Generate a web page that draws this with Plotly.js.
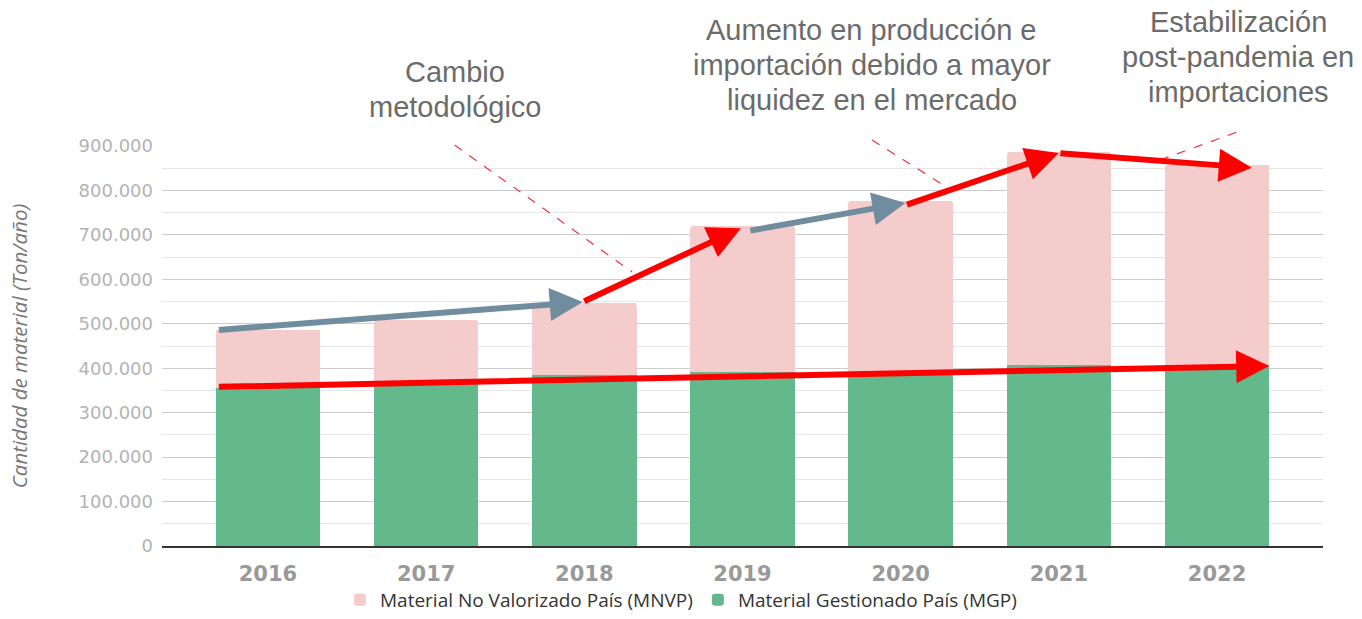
<!DOCTYPE html>
<html>
<head>
<meta charset="utf-8">
<script src="https://cdn.plot.ly/plotly-3.0.1.min.js"></script>
<style>
  html, body { margin: 0; padding: 0; background: #fff; }
  #chart { width: 1362px; height: 619px; }
</style>
</head>
<body>
<div id="chart"></div>
<script>
// values (Ton/año)
const years = ['2016', '2017', '2018', '2019', '2020', '2021', '2022'];
const mgp = [356000, 365000, 385000, 392000, 388000, 407000, 408000];
const mnvp = [131000, 143000, 162000, 328000, 389000, 479000, 450000];

// trend arrows: [tailX, tailY, headX, headY] in category index / value units
const grayArrows = [
  [-0.32, 486000, 1.99, 549000],
  [3.04, 709000, 4.03, 772000],
];
const redArrows = [
  [1.99, 549000, 2.99, 715000],
  [4.03, 767000, 5.0, 884000],
  [5.0, 884000, 6.22, 851000],
  [-0.32, 358000, 6.33, 405000],
];

const noteLines = [
  ['Cambio', 'metodológico'],
  ['Aumento en producción e', 'importación debido a mayor', 'liquidez en el mercado'],
  ['Estabilización', 'post-pandemia en', 'importaciones'],
];
// where each note sits (paper units): centre x, first line y
const notePos = [[0.2524, 1.185], [0.6115, 1.29], [0.9268, 1.31]];
const leaders = [
  [0.252, 1.0025, 0.405, 0.685],
  [0.6115, 1.015, 0.677, 0.895],
  [0.8596, 0.965, 0.9285, 1.0375],
];

function arrow(a, color) {
  return {
    x: a[2], y: a[3], ax: a[0], ay: a[1],
    xref: 'x', yref: 'y', axref: 'x', ayref: 'y',
    text: '', showarrow: true,
    arrowhead: 2, arrowsize: 1.1, arrowwidth: 6,
    arrowcolor: color, standoff: 0, startstandoff: 0,
  };
}

const annotations = []
  .concat(grayArrows.map(a => arrow(a, '#6f8d9f')))
  .concat(redArrows.map(a => arrow(a, '#ff0000')));
noteLines.forEach((lines, i) => {
  lines.forEach((t, j) => {
    annotations.push({
      text: t, x: notePos[i][0], y: notePos[i][1] - j * 0.0875,
      xref: 'paper', yref: 'paper', showarrow: false,
      xanchor: 'center', yanchor: 'middle',
      font: { family: 'Liberation Sans, Arial, sans-serif', size: 29, color: '#6b6b6b' },
    });
  });
});

const shapes = leaders.map(l => ({
  type: 'line', xref: 'paper', yref: 'paper',
  x0: l[0], y0: l[1], x1: l[2], y1: l[3],
  line: { color: '#ee3344', width: 1.2, dash: 'dash' },
}));

Plotly.newPlot('chart', [
  {
    type: 'bar', x: years, y: mgp, name: 'Material Gestionado País (MGP)',
    marker: { color: '#63b98c' }, hoverinfo: 'y',
  },
  {
    type: 'bar', x: years, y: mnvp, name: 'Material No Valorizado País (MNVP)',
    marker: { color: '#f4cccc' }, hoverinfo: 'y',
  },
], {
  width: 1362, height: 619,
  margin: { l: 162, r: 39, t: 146, b: 73 },
  barmode: 'stack', bargap: 0.34, barcornerradius: 3,
  separators: ',.',
  paper_bgcolor: '#fff', plot_bgcolor: '#fff',
  showlegend: true,
  legend: {
    orientation: 'h', traceorder: 'reversed',
    xref: 'container', yref: 'container', x: 0.5, y: 0,
    xanchor: 'center', yanchor: 'bottom',
    font: { family: 'Open Sans, sans-serif', size: 19, color: '#333' },
  },
  xaxis: {
    type: 'category', range: [-0.67, 6.67],
    showline: true, linecolor: '#333', linewidth: 2,
    showgrid: false, ticks: '', ticklabelstandoff: 8,
    tickfont: { family: 'DejaVu Sans, Verdana, sans-serif', size: 21, color: '#999', weight: 'bold' },
  },
  yaxis: {
    range: [0, 900000], dtick: 100000, tickformat: ',d',
    showgrid: true, gridcolor: '#cccccc', gridwidth: 1,
    minor: { dtick: 50000, showgrid: true, gridcolor: '#e6e6e6', gridwidth: 1 },
    zeroline: false, ticks: '', ticklabelstandoff: 8,
    tickfont: { family: 'DejaVu Sans, Verdana, sans-serif', size: 18, color: '#b3b3b3' },
    title: {
      text: 'Cantidad de material (Ton/año)', standoff: 45,
      font: { family: 'Open Sans, sans-serif', size: 20.5, color: '#777', style: 'italic' },
    },
    automargin: false,
  },
  annotations: annotations,
  shapes: shapes,
}, { displayModeBar: false });
</script>
</body>
</html>
